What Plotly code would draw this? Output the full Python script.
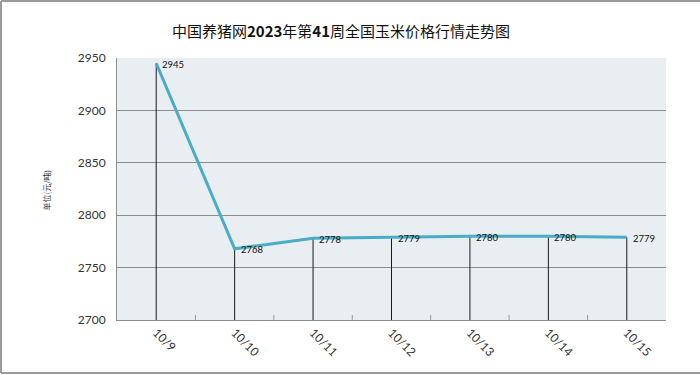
import plotly.graph_objects as go

categories = ["10/9", "10/10", "10/11", "10/12", "10/13", "10/14", "10/15"]
prices = [2945, 2768, 2778, 2779, 2780, 2780, 2779]
y_ticks = [2700, 2750, 2800, 2850, 2900, 2950]
title_text = "中国养猪网<b>2023</b>年第<b>41</b>周全国玉米价格行情走势图"
y_title = "单位(元/吨)"

L, R, T, B = 117, 34, 58, 55
W, H = 700, 375
pw, ph = W - L - R, H - T - B

def px(x):
    return (x - L) / pw

def py(y):
    return (H - B - y) / ph

fig = go.Figure()

# drop lines from each point to the axis floor
dx, dy = [], []
for c, v in zip(categories, prices):
    dx += [c, c, None]
    dy += [v, y_ticks[0], None]
fig.add_trace(go.Scatter(x=dx, y=dy, mode="lines",
                         line=dict(color="#1a1a1a", width=1),
                         hoverinfo="skip", showlegend=False))

fig.add_trace(go.Scatter(x=categories, y=prices, mode="lines",
                         line=dict(color="#4aacc5", width=3),
                         showlegend=False))

for c, v in zip(categories, prices):
    fig.add_annotation(x=c, y=v, text=str(v), showarrow=False,
                       xanchor="left", yanchor="middle", xshift=4, yshift=-1,
                       font=dict(size=9.5, color="#111", family="Lato"))

fig.add_annotation(xref="paper", yref="paper", x=px(38), y=py(190),
                   text=y_title, textangle=-90, showarrow=False,
                   font=dict(size=8, color="#333", family="Noto Sans CJK SC"))

# outer frame
fig.add_shape(type="line", xref="paper", yref="paper", x0=px(1), x1=px(700),
              y0=py(1), y1=py(1), line=dict(color="#9a9a9a", width=2))
fig.add_shape(type="line", xref="paper", yref="paper", x0=px(1), x1=px(1),
              y0=py(1), y1=py(373), line=dict(color="#9a9a9a", width=2))
fig.add_shape(type="line", xref="paper", yref="paper", x0=px(1), x1=px(700),
              y0=py(373), y1=py(373), line=dict(color="#9a9a9a", width=2))

fig.update_layout(
    width=W, height=H,
    margin=dict(l=L, r=R, t=T, b=B),
    paper_bgcolor="white",
    plot_bgcolor="#e8eef2",
    title=dict(text=title_text, xref="container", x=341 / W, xanchor="center",
               y=1 - 32 / H, yanchor="middle",
               font=dict(size=15, color="#111", family="Noto Sans CJK SC")),
    xaxis=dict(type="category", categoryorder="array", categoryarray=categories,
               range=[-0.5, len(categories) - 0.5],
               tickangle=45, tickfont=dict(size=12, color="#333", family="Lato"),
               showgrid=False, showline=True, linecolor="#8c8c8c", linewidth=1,
               ticks="", mirror=False, zeroline=False, fixedrange=True),
    yaxis=dict(range=[y_ticks[0], y_ticks[-1]], tickvals=y_ticks,
               tickfont=dict(size=12, color="#333", family="Lato"),
               showgrid=True, gridcolor="#8c8c8c", gridwidth=1,
               showline=True, linecolor="#8c8c8c", linewidth=1,
               ticks="", ticklabelstandoff=8, zeroline=False),
)

# minor ticks at category boundaries along the bottom
for k in range(1, len(categories)):
    fig.add_shape(type="line", xref="x", yref="paper", x0=k - 0.5, x1=k - 0.5,
                  y0=0, y1=5 / ph, line=dict(color="#999", width=1))

fig.write_html("out.html", config={"displayModeBar": False},
               post_script="document.body.style.margin='0';")
